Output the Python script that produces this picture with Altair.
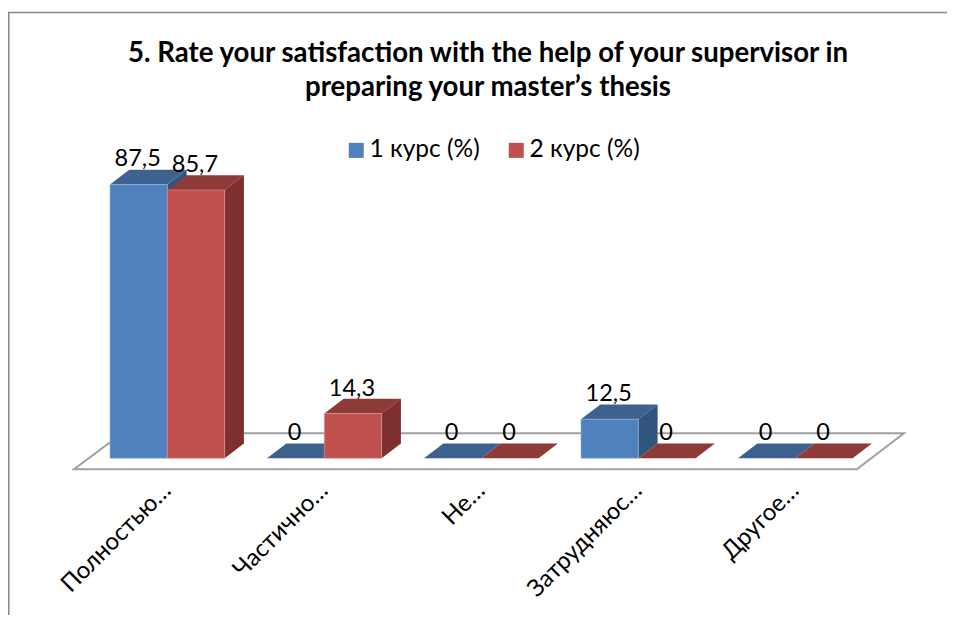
import altair as alt
import pandas as pd

TITLE = ["5. Rate your satisfaction with the help of your supervisor in",
         "preparing your master’s thesis"]
categories = ["Полностью…", "Частично…", "Не…", "Затрудняюс…", "Другое…"]
series_names = ["1 курс (%)", "2 курс (%)"]
values_1 = [87.5, 0, 0, 12.5, 0]
values_2 = [85.7, 14.3, 0, 0, 0]
labels_1 = ["87,5", "0", "0", "12,5", "0"]
labels_2 = ["85,7", "14,3", "0", "0", "0"]

FONT = "Lato"
BAR_W = 0.365
DEPTH_X = 0.123
DEPTH_Y = 4.7
W, H, TOP = 939, 490, 117
PX_PER_CAT, PX_PER_VAL = 157.0, 3.13
ZERO_X, ZERO_Y = 159.3, 333.3

x_scale = alt.Scale(domain=[-ZERO_X / PX_PER_CAT, (W - ZERO_X) / PX_PER_CAT], nice=False, zero=False)
y_scale = alt.Scale(domain=[-(H - ZERO_Y) / PX_PER_VAL, ZERO_Y / PX_PER_VAL], nice=False, zero=False)
X = lambda f: alt.X(f, type="quantitative", scale=x_scale, axis=None)
Y = lambda f: alt.Y(f, type="quantitative", scale=y_scale, axis=None)


def faces(values, left_off):
    front, top, side = [], [], []
    for i, v in enumerate(values):
        a, b = i + left_off, i + left_off + BAR_W
        front.append(dict(a=a, b=b, v=v, base=0.0))
        top.append(dict(k=i, y=v, l=a, r=b))
        top.append(dict(k=i, y=v + DEPTH_Y, l=a + DEPTH_X, r=b + DEPTH_X))
        if v > 0:
            side.append(dict(k=i, x=b, lo=0.0, hi=v))
            side.append(dict(k=i, x=b + DEPTH_X, lo=DEPTH_Y, hi=v + DEPTH_Y))
    return pd.DataFrame(front), pd.DataFrame(top), pd.DataFrame(side)


def series_layers(name, values, left_off, top_col, side_col, front_edge):
    fr, tp, sd = faces(values, left_off)
    fr["series"] = name
    return [
        alt.Chart(tp).mark_area(orient="horizontal", color=top_col).encode(
            y=Y("y"), x=X("l"), x2="r", detail="k:N"),
        alt.Chart(sd).mark_area(orient="vertical", color=side_col).encode(
            x=X("x"), y=Y("lo"), y2="hi", detail="k:N"),
        alt.Chart(fr[fr.v > 0]).mark_rect(stroke=front_edge, strokeWidth=1, strokeOpacity=0.6).encode(
            x=X("a"), x2="b", y=Y("base"), y2="v",
            color=alt.Color("series:N", scale=alt.Scale(domain=series_names, range=["#4F81BD", "#C0504D"]),
                            legend=alt.Legend(title=None, orient="none", legendX=336, legendY=13,
                                              direction="horizontal", symbolType="square", symbolSize=225,
                                              symbolStrokeWidth=0, labelFont=FONT, labelFontSize=24.5,
                                              labelColor="#000000", labelOffset=1, columnPadding=24,
                                              columns=2, labelLimit=200))),
    ]


floor_df = pd.DataFrame([
    dict(y=-3.5, l=-0.594, r=4.392),
    dict(y=8.0, l=-0.288, r=4.692),
])
floor = alt.Chart(floor_df).mark_area(orient="horizontal", fill="#FFFFFF", stroke="#A0A0A0", strokeWidth=2).encode(
    y=Y("y"), x=X("l"), x2="r")

blue = series_layers(series_names[0], values_1, -BAR_W, "#3D628F", "#32557F", "#9DB8D9")
red = series_layers(series_names[1], values_2, 0.0, "#8E3A38", "#7D302E", "#D99A98")

txt = pd.DataFrame(
    [dict(x=i - BAR_W / 2, y=v, t=t) for i, (v, t) in enumerate(zip(values_1, labels_1))]
    + [dict(x=i + BAR_W / 2, y=v, t=t) for i, (v, t) in enumerate(zip(values_2, labels_2))]
)
value_text = alt.Chart(txt).mark_text(font=FONT, fontSize=23.5, color="#000000", baseline="alphabetic", dy=-18, dx=-1).encode(
    x=X("x"), y=Y("y"), text="t:N")

cat_df = pd.DataFrame(dict(i=list(range(5)), c=categories))
cat_text = alt.Chart(cat_df).mark_text(font=FONT, fontSize=24, color="#000000", angle=315, align="right",
                                       baseline="middle", xOffset=0).encode(
    x=X("i"), y=alt.value(362), text="c:N")

title_marks = [
    alt.Chart(pd.DataFrame({"t": [line]})).mark_text(font=FONT, fontSize=27.6, fontWeight="bold", color="#000000",
                                                     baseline="alphabetic").encode(
        x=alt.value(480), y=alt.value(y), text="t:N")
    for line, y in zip(TITLE, [-63, -29])
]

border_top = alt.Chart(pd.DataFrame({"a": [0]})).mark_rule(color="#868686", strokeWidth=1.5).encode(
    x=alt.value(0), x2=alt.value(W), y=alt.value(-112.5))
border_left = alt.Chart(pd.DataFrame({"a": [0]})).mark_rule(color="#868686", strokeWidth=1.5).encode(
    x=alt.value(0.75), y=alt.value(-112.5), y2=alt.value(H))

chart = alt.layer(border_top, border_left, floor, *blue, *red, value_text, cat_text, *title_marks).properties(
    width=W, height=H,
    padding={"left": 0, "right": 0, "top": TOP, "bottom": 0},
    autosize=alt.AutoSizeParams(type="none"),
).configure_view(stroke=None).resolve_scale(color="shared")

chart.save("out.html", embed_options={"renderer": "svg", "actions": False})
